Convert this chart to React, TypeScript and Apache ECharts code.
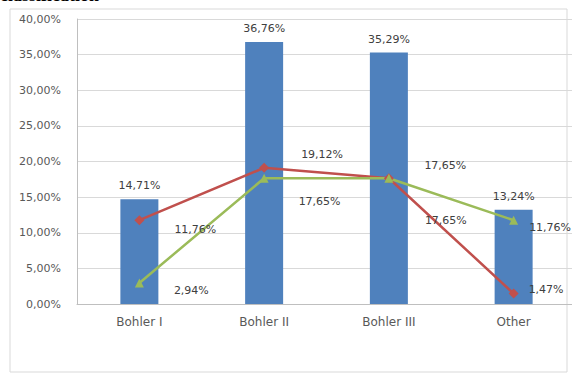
import React, { useEffect, useRef } from "react";
import * as echarts from "echarts";

const categories = ["Bohler I", "Bohler II", "Bohler III", "Other"];
const barValues = [14.71, 36.76, 35.29, 13.24];
const redValues = [11.76, 19.12, 17.65, 1.47];
const greenValues = [2.94, 17.65, 17.65, 11.76];
const yMin = 0;
const yMax = 40;
const yInterval = 5;

// label layout offsets (px) relative to the point, not data
const redLabelOffsets = [[30, 9], [32, -13], [31, 42], [10, -4]];
const greenLabelOffsets = [[30, 7], [30, 23], [31, -13], [11, 7]];

const fmt = (v: number) => v.toFixed(2).replace(".", ",") + "%";
const FONT = "DejaVu Sans";

export default function App() {
  const ref = useRef<HTMLDivElement>(null);
  useEffect(() => {
    if (!ref.current) return;
    const chart = echarts.init(ref.current, undefined, { renderer: "svg" });
    const lineLabel = (offsets: number[][]) => (v: number, i: number) => ({
      value: v,
      label: {
        show: true,
        position: "right",
        distance: 0,
        offset: offsets[i],
        formatter: (p: any) => fmt(p.value),
        color: "#404040",
        fontFamily: FONT,
        fontSize: 11,
      },
    });
    chart.setOption({
      animation: false,
      backgroundColor: "#ffffff",
      grid: { left: 77, right: -4, top: 19, bottom: 70, outerBoundsMode: "none", containLabel: false },
      xAxis: {
        type: "category",
        data: categories,
        axisLine: { show: true, lineStyle: { color: "#bfbfbf", width: 1 } },
        axisTick: { show: false },
        axisLabel: { color: "#595959", fontFamily: FONT, fontSize: 12, margin: 12 },
      },
      yAxis: {
        type: "value",
        min: yMin,
        max: yMax,
        interval: yInterval,
        axisLine: { show: true, lineStyle: { color: "#bfbfbf", width: 1 } },
        axisTick: { show: false },
        splitLine: { show: true, lineStyle: { color: "#d9d9d9", width: 1 } },
        axisLabel: {
          color: "#595959",
          fontFamily: FONT,
          fontSize: 11,
          margin: 16,
          formatter: (v: number) => fmt(v),
        },
      },
      graphic: [
        {
          type: "rect",
          shape: { x: 10, y: 9, width: 557, height: 363 },
          style: { fill: "none", stroke: "#d9d9d9", lineWidth: 1 },
          silent: true,
        },
        {
          type: "text",
          x: 0,
          y: -14,
          style: { text: "classification", font: 'bold 18px "Liberation Serif"', fill: "#000" },
          silent: true,
        },
      ],
      series: [
        {
          type: "bar",
          data: barValues,
          barWidth: 38,
          itemStyle: { color: "#4f81bd" },
          label: {
            show: true,
            position: "top",
            distance: 8,
            color: "#404040",
            fontFamily: FONT,
            fontSize: 11,
            formatter: (p: any) => fmt(p.value),
          },
        },
        {
          type: "line",
          data: redValues.map(lineLabel(redLabelOffsets)),
          symbol: "diamond",
          symbolSize: 10,
          lineStyle: { color: "#c0504d", width: 2.5 },
          itemStyle: { color: "#c0504d" },
        },
        {
          type: "line",
          data: greenValues.map(lineLabel(greenLabelOffsets)),
          symbol: "triangle",
          symbolSize: 9,
          lineStyle: { color: "#9bbb59", width: 2.5 },
          itemStyle: { color: "#9bbb59" },
        },
      ],
    });
    return () => chart.dispose();
  }, []);
  return (
    <div
      ref={ref}
      style={{ position: "absolute", left: 0, top: 0, width: 572, height: 374 }}
    />
  );
}
